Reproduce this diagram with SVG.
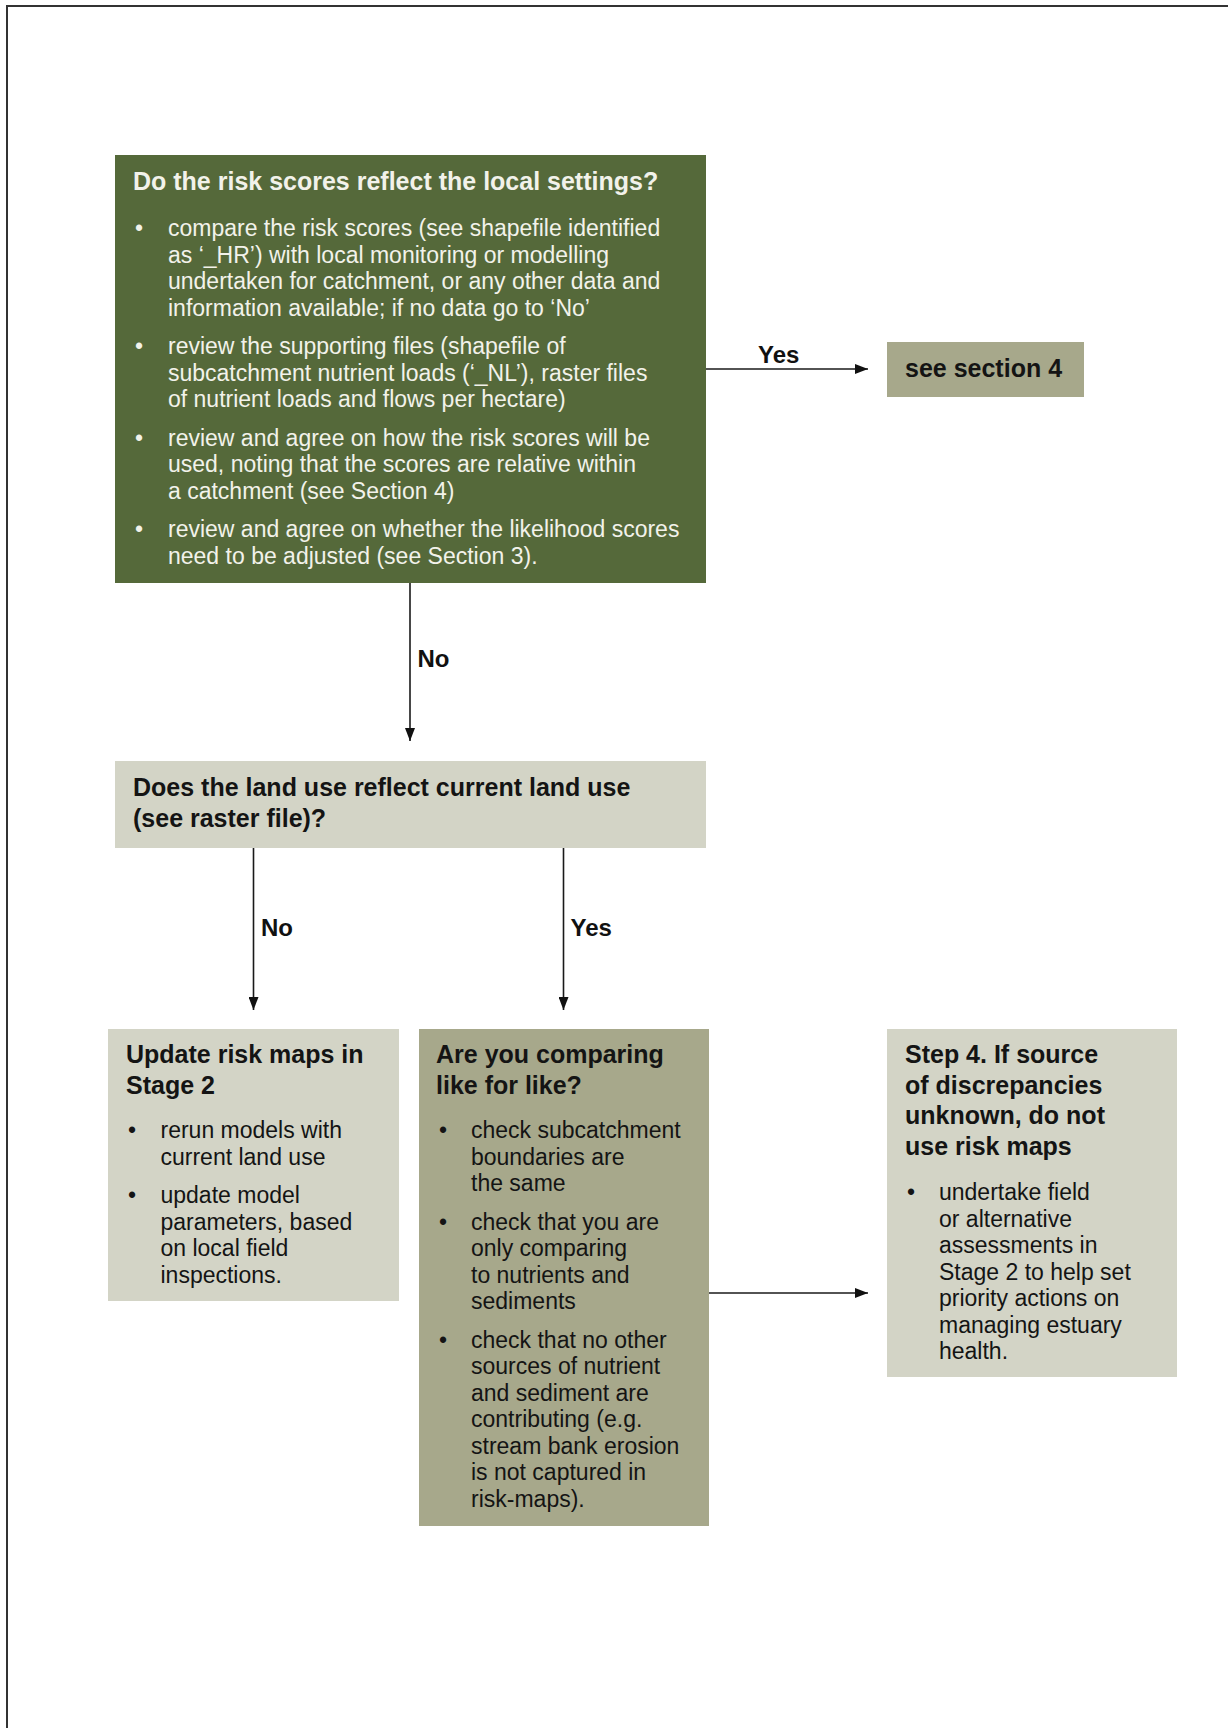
<svg xmlns="http://www.w3.org/2000/svg" width="1228" height="1728" viewBox="0 0 1228 1728">
  <style>
    text { font-family: "Liberation Sans", Arial, sans-serif; }
    .h { font-size: 25px; font-weight: bold; }
    .b { font-size: 23px; }
    .lbl { font-size: 24px; font-weight: bold; fill: #111; }
    .lt { fill: #f2f2ea; }
    .dk { fill: #141414; }
    .green { fill: #55693a; }
    .olive { fill: #a7a88b; }
    .light { fill: #d3d4c6; }
    .conn { stroke: #1a1a1a; stroke-width: 1.6; fill: none; marker-end: url(#ah); }
  </style>
  <defs>
    <marker id="ah" viewBox="0 0 13 10" refX="13" refY="5" markerWidth="13" markerHeight="10" markerUnits="userSpaceOnUse" orient="auto">
      <path d="M0,0 L13,5 L0,10 z" fill="#111"/>
    </marker>
  </defs>
  <rect width="1228" height="1728" fill="#ffffff"/>
  <path d="M7,1728 V6 H1228" fill="none" stroke="#333" stroke-width="2"/>

  <g id="node-risk-scores">
    <rect class="green" x="115" y="155" width="591" height="428"/>
    <text class="h lt" x="133" y="190">Do the risk scores reflect the local settings?</text>
    <g class="b lt">
      <text x="135" y="236">•</text>
      <text x="168" y="236">compare the risk scores (see shapefile identified</text>
      <text x="168" y="262.5">as ‘_HR’) with local monitoring or modelling</text>
      <text x="168" y="289">undertaken for catchment, or any other data and</text>
      <text x="168" y="315.5">information available; if no data go to ‘No’</text>
      <text x="135" y="354">•</text>
      <text x="168" y="354">review the supporting files (shapefile of</text>
      <text x="168" y="380.5">subcatchment nutrient loads (‘_NL’), raster files</text>
      <text x="168" y="407">of nutrient loads and flows per hectare)</text>
      <text x="135" y="445.5">•</text>
      <text x="168" y="445.5">review and agree on how the risk scores will be</text>
      <text x="168" y="472">used, noting that the scores are relative within</text>
      <text x="168" y="498.5">a catchment (see Section 4)</text>
      <text x="135" y="537">•</text>
      <text x="168" y="537">review and agree on whether the likelihood scores</text>
      <text x="168" y="563.5">need to be adjusted (see Section 3).</text>
    </g>
  </g>

  <g id="node-section4">
    <rect class="olive" x="887" y="342" width="197" height="55"/>
    <text class="h dk" x="905" y="377">see section 4</text>
  </g>

  <g id="node-land-use">
    <rect class="light" x="115" y="761" width="591" height="87"/>
    <text class="h dk" x="133" y="796">Does the land use reflect current land use</text>
    <text class="h dk" x="133" y="827">(see raster file)?</text>
  </g>

  <g id="node-update">
    <rect class="light" x="108" y="1029" width="291" height="272"/>
    <text class="h dk" x="126" y="1063">Update risk maps in</text>
    <text class="h dk" x="126" y="1094">Stage 2</text>
    <g class="b dk">
      <text x="128" y="1138">•</text>
      <text x="160.5" y="1138">rerun models with</text>
      <text x="160.5" y="1164.5">current land use</text>
      <text x="128" y="1203">•</text>
      <text x="160.5" y="1203">update model</text>
      <text x="160.5" y="1229.5">parameters, based</text>
      <text x="160.5" y="1256">on local field</text>
      <text x="160.5" y="1282.5">inspections.</text>
    </g>
  </g>

  <g id="node-compare">
    <rect class="olive" x="419" y="1029" width="290" height="497"/>
    <text class="h dk" x="436" y="1063">Are you comparing</text>
    <text class="h dk" x="436" y="1094">like for like?</text>
    <g class="b dk">
      <text x="439" y="1138">•</text>
      <text x="471" y="1138">check subcatchment</text>
      <text x="471" y="1164.5">boundaries are</text>
      <text x="471" y="1191">the same</text>
      <text x="439" y="1229.5">•</text>
      <text x="471" y="1229.5">check that you are</text>
      <text x="471" y="1256">only comparing</text>
      <text x="471" y="1282.5">to nutrients and</text>
      <text x="471" y="1309">sediments</text>
      <text x="439" y="1347.5">•</text>
      <text x="471" y="1347.5">check that no other</text>
      <text x="471" y="1374">sources of nutrient</text>
      <text x="471" y="1400.5">and sediment are</text>
      <text x="471" y="1427">contributing (e.g.</text>
      <text x="471" y="1453.5">stream bank erosion</text>
      <text x="471" y="1480">is not captured in</text>
      <text x="471" y="1506.5">risk-maps).</text>
    </g>
  </g>

  <g id="node-step4">
    <rect class="light" x="887" y="1029" width="290" height="348"/>
    <text class="h dk" x="905" y="1063">Step 4. If source</text>
    <text class="h dk" x="905" y="1093.7">of discrepancies</text>
    <text class="h dk" x="905" y="1124.4">unknown, do not</text>
    <text class="h dk" x="905" y="1155">use risk maps</text>
    <g class="b dk">
      <text x="907" y="1200">•</text>
      <text x="939" y="1200">undertake field</text>
      <text x="939" y="1226.5">or alternative</text>
      <text x="939" y="1253">assessments in</text>
      <text x="939" y="1279.5">Stage 2 to help set</text>
      <text x="939" y="1306">priority actions on</text>
      <text x="939" y="1332.5">managing estuary</text>
      <text x="939" y="1359">health.</text>
    </g>
  </g>

  <g id="connectors">
    <path class="conn" d="M706,369 H868"/>
    <path class="conn" d="M410,583 V741"/>
    <path class="conn" d="M253.5,848 V1010"/>
    <path class="conn" d="M563.5,848 V1010"/>
    <path class="conn" d="M709,1293 H868"/>
    <text class="lbl" x="758" y="363">Yes</text>
    <text class="lbl" x="417.5" y="667">No</text>
    <text class="lbl" x="261" y="936">No</text>
    <text class="lbl" x="570.5" y="936">Yes</text>
  </g>
</svg>
